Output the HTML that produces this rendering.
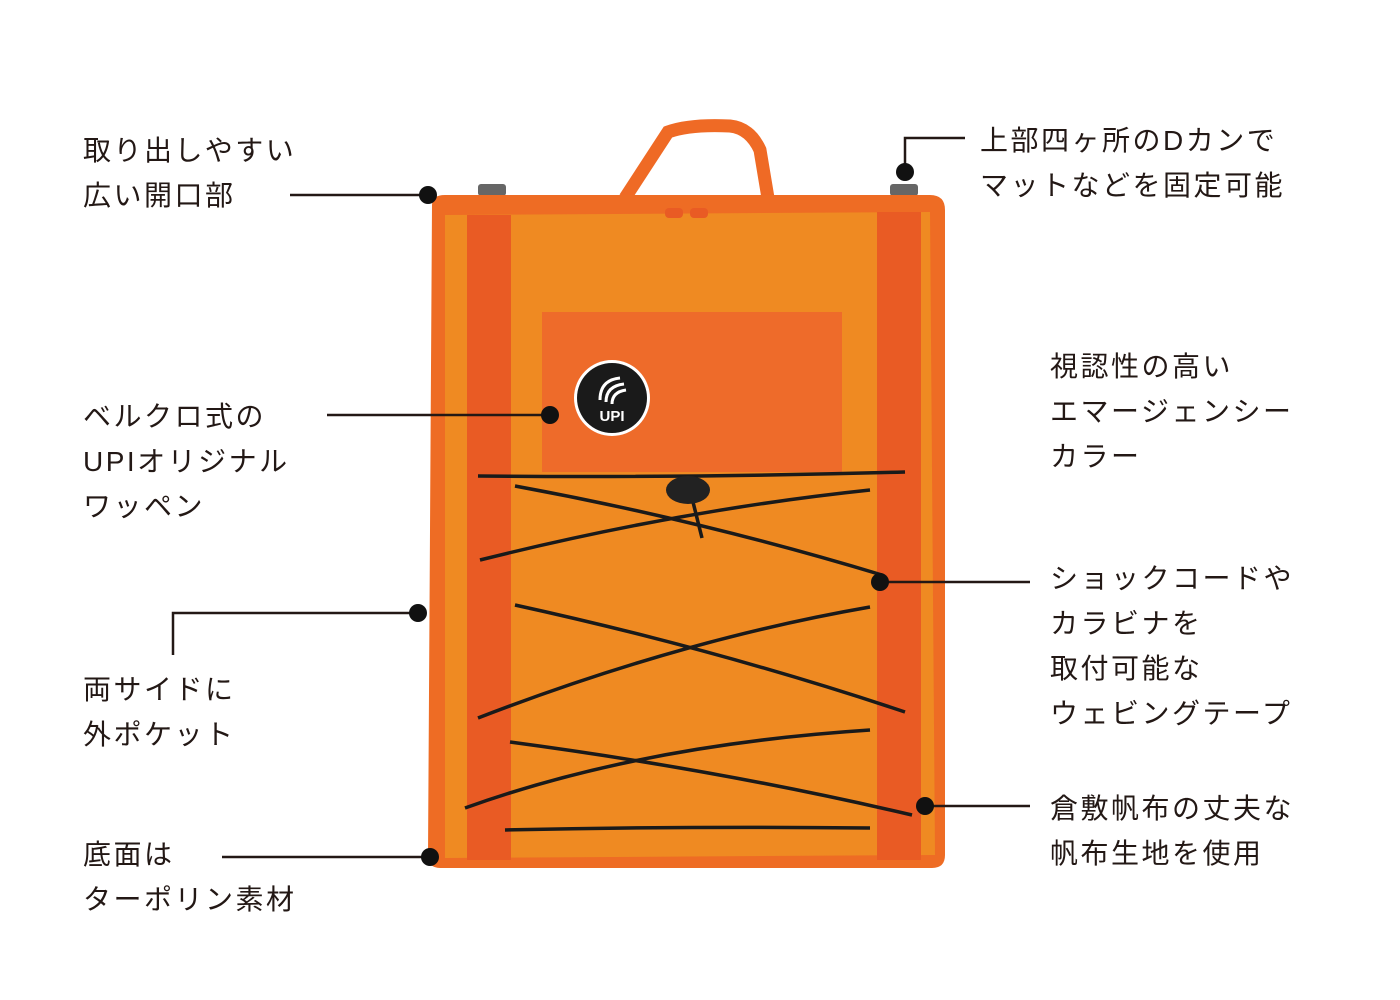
<!DOCTYPE html>
<html><head><meta charset="utf-8"><style>
html,body{margin:0;padding:0;background:#fff;}
body{width:1400px;height:1000px;position:relative;overflow:hidden;font-family:"Liberation Sans","Noto Sans CJK JP",sans-serif;color:#231815;}
.t{position:absolute;font-size:28px;line-height:45px;white-space:nowrap;letter-spacing:2.5px;}
svg{position:absolute;left:0;top:0;}
</style></head><body>
<svg width="1400" height="1000" viewBox="0 0 1400 1000">
<path d="M625 198 L668 132 Q690 124 730 126 Q750 128 760 150 L768 198" fill="none" stroke="#ef6a25" stroke-width="13"/>
<rect x="478" y="184" width="28" height="12" rx="3" fill="#666"/>
<rect x="890" y="184" width="28" height="12" rx="3" fill="#666"/>
<path d="M432 205 Q432 195 445 195 L930 195 Q945 195 945 210 L945 855 Q945 868 932 868 L440 868 Q428 868 428 855 Z" fill="#ee6c24"/>
<path d="M445 215 L930 212 L935 855 L445 858 Z" fill="#ef8a22"/>
<rect x="467" y="215" width="44" height="645" fill="#e95b24"/>
<rect x="877" y="212" width="44" height="648" fill="#e95b24"/>
<rect x="665" y="208" width="18" height="10" rx="4" fill="#e95b24"/>
<rect x="690" y="208" width="18" height="10" rx="4" fill="#e95b24"/>
<rect x="542" y="312" width="300" height="160" fill="#ee6b2a"/>
<circle cx="612" cy="398" r="38" fill="#fff"/>
<circle cx="612" cy="398" r="35" fill="#1a1a1a"/>
<text x="612" y="421" font-size="15" font-weight="bold" fill="#fff" text-anchor="middle" font-family="Liberation Sans">UPI</text>
<path d="M600 400 Q600 380 620 378 M606 402 Q606 386 624 384 M612 404 Q612 392 626 390" stroke="#fff" stroke-width="3" fill="none"/>
<g stroke="#1a1a1a" stroke-width="3.5" fill="none">
<path d="M478 476 Q690 478 905 472"/>
<path d="M515 486 Q700 520 882 575"/>
<path d="M480 560 Q680 510 870 490"/>
<path d="M515 605 Q720 650 905 712"/>
<path d="M478 718 Q680 640 870 607"/>
<path d="M510 742 Q720 770 912 815"/>
<path d="M465 808 Q640 745 870 730"/>
<path d="M505 830 Q690 826 870 828"/>
<path d="M690 490 L702 538"/>
</g>
<ellipse cx="688" cy="490" rx="22" ry="14" fill="#222"/>
<g stroke="#231815" stroke-width="2.5" fill="none">
<path d="M290 195 H428"/>
<path d="M965 138 H905 V172"/>
<path d="M327 415 H550"/>
<path d="M173 655 V613 H418"/>
<path d="M222 857 H430"/>
<path d="M880 582 H1030"/>
<path d="M925 806 H1030"/>
</g>
<g fill="#111">
<circle cx="428" cy="195" r="9"/>
<circle cx="905" cy="172" r="9"/>
<circle cx="550" cy="415" r="9"/>
<circle cx="418" cy="613" r="9"/>
<circle cx="430" cy="857" r="9"/>
<circle cx="880" cy="582" r="9"/>
<circle cx="925" cy="806" r="9"/>
</g>
</svg>
<div class="t" style="left:83px;top:128px">取り出しやすい<br>広い開口部</div>
<div class="t" style="left:980px;top:118px">上部四ヶ所のDカンで<br>マットなどを固定可能</div>
<div class="t" style="left:1050px;top:344px">視認性の高い<br>エマージェンシー<br>カラー</div>
<div class="t" style="left:83px;top:394px">ベルクロ式の<br>UPIオリジナル<br>ワッペン</div>
<div class="t" style="left:1050px;top:556px">ショックコードや<br>カラビナを<br>取付可能な<br>ウェビングテープ</div>
<div class="t" style="left:83px;top:667px">両サイドに<br>外ポケット</div>
<div class="t" style="left:1050px;top:786px">倉敷帆布の丈夫な<br>帆布生地を使用</div>
<div class="t" style="left:83px;top:832px">底面は<br>ターポリン素材</div>
</body></html>
